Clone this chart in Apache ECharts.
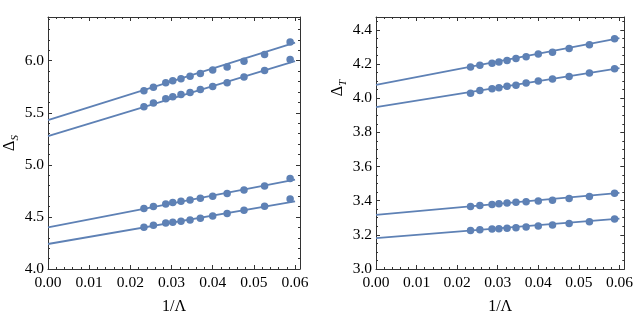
<!DOCTYPE html>
<html>
<head>
<meta charset="utf-8">
<script src="https://cdn.jsdelivr.net/npm/echarts@6/dist/echarts.min.js"></script>
<style>
html, body { margin: 0; padding: 0; background: #fff; }
#chart { width: 636px; height: 332px; }
</style>
</head>
<body>
<div id="chart"></div>
<script>
// 1/Lambda values of the points (same for every series)
const invLambda = [0.0233, 0.0256, 0.0286, 0.0303, 0.0323, 0.0345, 0.0370, 0.0400, 0.0435, 0.0476, 0.0526, 0.0588];

// left panel, Delta_S
const deltaS1 = [5.711, 5.746, 5.788, 5.807, 5.827, 5.852, 5.878, 5.910, 5.939, 5.996, 6.061, 6.179];
const deltaS2 = [5.557, 5.593, 5.634, 5.654, 5.676, 5.695, 5.724, 5.753, 5.788, 5.843, 5.907, 6.013];
const deltaS3 = [4.580, 4.599, 4.625, 4.638, 4.650, 4.663, 4.679, 4.698, 4.724, 4.759, 4.798, 4.868];
const deltaS4 = [4.400, 4.420, 4.442, 4.448, 4.458, 4.471, 4.487, 4.509, 4.532, 4.564, 4.602, 4.673];

// right panel, Delta_T
const deltaT1 = [4.182, 4.193, 4.205, 4.211, 4.221, 4.232, 4.242, 4.258, 4.269, 4.291, 4.312, 4.347];
const deltaT2 = [4.029, 4.045, 4.055, 4.061, 4.070, 4.076, 4.088, 4.100, 4.112, 4.127, 4.147, 4.172];
const deltaT3 = [3.366, 3.372, 3.378, 3.382, 3.386, 3.390, 3.394, 3.398, 3.403, 3.413, 3.425, 3.444];
const deltaT4 = [3.226, 3.230, 3.234, 3.236, 3.238, 3.242, 3.246, 3.252, 3.257, 3.267, 3.277, 3.293];

// fit lines: value at 1/Lambda = 0 and at 0.06
const fitX = [0, 0.06];
const fitS1 = [5.429, 6.173];
const fitS2 = [5.275, 5.996];
const fitS3 = [4.400, 4.859];
const fitS4 = [4.240, 4.650];
const fitT1 = [4.078, 4.351];
const fitT2 = [3.948, 4.176];
const fitT3 = [3.317, 3.446];
const fitT4 = [3.181, 3.295];

const blue = '#5E81B5';
const frame = '#333';
const serif = 'Liberation Serif';

function xAxes(grid) {
  const base = {
    type: 'value', gridIndex: grid, min: 0, max: 0.0612, interval: 0.01,
    axisLine: { show: true, onZero: false, lineStyle: { color: frame, width: 1 } },
    axisTick: { inside: true, length: 4, lineStyle: { color: frame } },
    minorTick: { show: true, splitNumber: 5, length: 2, lineStyle: { color: frame } },
    splitLine: { show: false },
  }
  return [
    Object.assign({}, base, {
      position: 'bottom',
      axisLabel: {
        margin: 6, fontFamily: serif, fontSize: 15.5, color: '#000', showMaxLabel: false,
        formatter: v => v.toFixed(2)
      },
      name: '1/Λ', nameLocation: 'middle', nameGap: 30,
      nameTextStyle: { fontFamily: serif, fontSize: 16, color: '#000' }
    }),
    Object.assign({}, base, { position: 'top', axisLabel: { show: false } })
  ]
}

function yAxes(grid, min, max, interval, minor, sub, shift) {
  const base = {
    type: 'value', gridIndex: grid, min: min, max: max, interval: interval,
    axisLine: { show: true, onZero: false, lineStyle: { color: frame, width: 1 } },
    axisTick: { inside: true, length: 4, lineStyle: { color: frame } },
    minorTick: { show: true, splitNumber: minor, length: 2, lineStyle: { color: frame } },
    splitLine: { show: false },
  }
  return [
    Object.assign({}, base, {
      position: 'left',
      axisLabel: {
        margin: 4, fontFamily: serif, fontSize: 15.5, color: '#000', showMaxLabel: false,
        formatter: v => v.toFixed(1)
      },
      name: '{d|Δ}{s|' + sub + '}', nameLocation: 'middle', nameGap: 29,
      nameTextStyle: {
        padding: [0, 0, 0, shift],
        rich: {
          d: { fontFamily: serif, fontSize: 16, color: '#000', lineHeight: 18, verticalAlign: 'bottom' },
          s: { fontFamily: serif, fontSize: 11, fontStyle: 'italic', color: '#000', lineHeight: 18, verticalAlign: 'bottom', padding: [0, 0, -3, 0] }
        }
      }
    }),
    Object.assign({}, base, { position: 'right', axisLabel: { show: false } })
  ]
}

function pts(ys, xi, yi) {
  return {
    type: 'scatter', xAxisIndex: xi, yAxisIndex: yi, symbolSize: 7.5, z: 3,
    itemStyle: { color: blue, opacity: 1 },
    data: invLambda.map((x, i) => [x, ys[i]])
  }
}

function fit(ends, xi, yi) {
  return {
    type: 'line', xAxisIndex: xi, yAxisIndex: yi, showSymbol: false, z: 2,
    lineStyle: { color: blue, width: 1.8 },
    data: fitX.map((x, i) => [x, ends[i]])
  }
}

let myChart = echarts.init(document.getElementById('chart'));
myChart.setOption({
  animation: false,
  grid: [
    { left: 48, top: 17, width: 252, height: 252 },
    { left: 376, top: 17, width: 251, height: 252 }
  ],
  xAxis: xAxes(0).concat(xAxes(1)),
  yAxis: yAxes(0, 4.0, 6.42, 0.5, 5, 'S', 0).concat(yAxes(1, 3.0, 4.475, 0.2, 4, 'T', 110)),
  series: [
    fit(fitS1, 0, 0), fit(fitS2, 0, 0), fit(fitS3, 0, 0), fit(fitS4, 0, 0),
    pts(deltaS1, 0, 0), pts(deltaS2, 0, 0), pts(deltaS3, 0, 0), pts(deltaS4, 0, 0),
    fit(fitT1, 2, 2), fit(fitT2, 2, 2), fit(fitT3, 2, 2), fit(fitT4, 2, 2),
    pts(deltaT1, 2, 2), pts(deltaT2, 2, 2), pts(deltaT3, 2, 2), pts(deltaT4, 2, 2)
  ]
})
</script>
</body>
</html>
